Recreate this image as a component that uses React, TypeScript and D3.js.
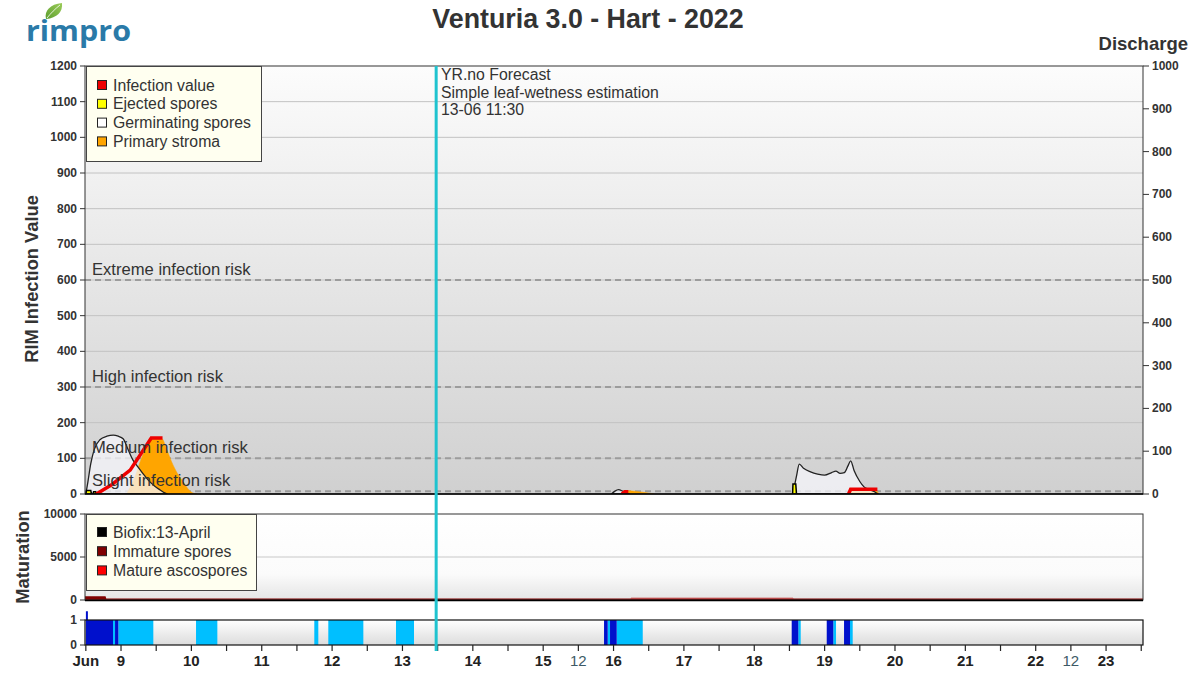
import React from 'react';
import * as d3 from 'd3';

const W = 1198;
const H = 677;
const FONT = '"Liberation Sans", Arial, Helvetica, sans-serif';

type Pt = { t: number; v: number };
const P = (t: number, v: number): Pt => ({ t, v });

// ---- Data (time in June days, e.g. 9.5 = 9 June 12:00) ----
const germinatingSpores: Pt[][] = [
  [P(8.50, 0), P(8.53, 35), P(8.57, 85), P(8.62, 125), P(8.70, 152), P(8.80, 162), P(8.89, 165), P(8.96, 162), P(9.03, 155), P(9.10, 125), P(9.17, 95), P(9.24, 76), P(9.32, 55), P(9.40, 36), P(9.48, 22), P(9.55, 12), P(9.62, 3), P(9.66, 0)],
  [P(15.97, 0), P(16.02, 8), P(16.07, 12), P(16.13, 8), P(16.19, 2), P(16.23, 0)],
  [P(18.55, 0), P(18.60, 50), P(18.64, 84), P(18.70, 72), P(18.80, 62), P(18.90, 56), P(19.00, 53), P(19.10, 60), P(19.16, 64), P(19.22, 58), P(19.28, 60), P(19.33, 78), P(19.37, 93), P(19.42, 65), P(19.50, 35), P(19.56, 20), P(19.64, 12), P(19.72, 5), P(19.76, 0)],
];

const primaryStroma: Pt[][] = [
  [P(9.08, 0), P(9.20, 50), P(9.30, 105), P(9.40, 148), P(9.44, 155), P(9.58, 155), P(9.65, 125), P(9.72, 90), P(9.80, 58), P(9.88, 35), P(9.95, 15), P(10.02, 3), P(10.08, 0)],
  [P(16.14, 0), P(16.18, 9), P(16.30, 8), P(16.45, 4), P(16.58, 0)],
  [P(19.33, 0), P(19.36, 8), P(19.74, 8), P(19.77, 0)],
];

const infectionValue: Pt[][] = [
  [P(8.65, 0), P(8.86, 25), P(9.13, 67), P(9.43, 157), P(9.59, 157)],
  [P(16.12, 0), P(16.16, 6), P(16.21, 6)],
  [P(19.34, 0), P(19.37, 13), P(19.75, 13)],
];

const ejectedSpores: Pt[][] = [
  [P(8.50, 0), P(8.51, 10), P(8.57, 10), P(8.58, 0)],
  [P(8.60, 0), P(8.61, 6), P(8.64, 6), P(8.65, 0)],
  [P(18.545, 0), P(18.55, 28), P(18.59, 28), P(18.60, 0)],
];

const immatureSpores: Pt[] = [P(8.488, 450), P(8.78, 450), P(8.79, 160), P(23.525, 160)];
const matureAscospores: Pt[] = [P(16.24, 0), P(16.25, 110), P(18.55, 110), P(18.56, 0)];

const wetDark: [number, number][] = [
  [8.503, 8.886], [8.915, 8.962], [15.865, 15.917], [15.950, 16.045],
  [18.532, 18.626], [19.030, 19.123], [19.276, 19.361],
];
const wetLight: [number, number][] = [
  [8.886, 8.915], [8.962, 9.459], [10.066, 10.369], [11.747, 11.804], [11.946, 12.444],
  [12.908, 13.164], [15.917, 15.950], [16.045, 16.415], [18.626, 18.660],
  [19.123, 19.162], [19.361, 19.399],
];
const rainBars: Pt[] = [P(8.515, 1.35)];

const riskLevels = [
  { label: 'Extreme infection risk', v: 600 },
  { label: 'High infection risk', v: 300 },
  { label: 'Medium infection risk', v: 100 },
  { label: 'Slight infection risk', v: 8 },
];

const leftTicks = d3.range(0, 1201, 100);
const rightTicks = d3.range(0, 1001, 100);
const maturationTicks = [0, 5000, 10000];
const wetTicks = [0, 1];
const dayLabels = d3.range(9, 24);
const extraLabels = [{ t: 15.5, label: '12' }, { t: 22.5, label: '12' }];
const halfDayTicks = d3.range(8.5, 23.51, 0.5);
const forecastTime = 13.479;
const forecastText = ['YR.no Forecast', 'Simple leaf-wetness estimation', '13-06 11:30'];

const infectionLegend = [
  { label: 'Infection value', color: '#ee0000' },
  { label: 'Ejected spores', color: '#ffff00' },
  { label: 'Germinating spores', color: '#ffffff' },
  { label: 'Primary stroma', color: '#ffa500' },
];
const maturationLegend = [
  { label: 'Biofix:13-April', color: '#000000' },
  { label: 'Immature spores', color: '#800000' },
  { label: 'Mature ascospores', color: '#ff0000' },
];

export default function App() {
  const L = 85, R = 1143;
  const x = d3.scaleLinear().domain([8.488, 23.525]).range([L, R]);
  const yL = d3.scaleLinear().domain([0, 1200]).range([494, 66]);
  const yR = d3.scaleLinear().domain([0, 1000]).range([494, 66]);
  const yM = d3.scaleLinear().domain([0, 10000]).range([600, 514]);
  const yW = d3.scaleLinear().domain([0, 1]).range([645, 620]);

  const areaL = d3.area<Pt>().x(d => x(d.t)).y0(yL(0)).y1(d => yL(d.v)).curve(d3.curveMonotoneX);
  const areaLin = d3.area<Pt>().x(d => x(d.t)).y0(yL(0)).y1(d => yL(d.v));
  const lineL = d3.line<Pt>().x(d => x(d.t)).y(d => yL(d.v));
  const immArea = d3.area<Pt>().x(d => x(d.t)).y0(yM(0)).y1(d => yM(d.v));
  const matArea = d3.area<Pt>().x(d => x(d.t)).y0(yM(160)).y1(d => yM(160 + d.v));

  const xf = x(forecastTime);
  const fs = 15.8;

  return (
    <svg width={W} height={H} style={{ position: 'absolute', left: 0, top: 0, background: '#fff' }} fontFamily={FONT}>
      <defs>
        <linearGradient id="gMain" x1="0" y1="0" x2="0" y2="1">
          <stop offset="0" stopColor="#fcfcfc" />
          <stop offset="1" stopColor="#d0d0d0" />
        </linearGradient>
        <linearGradient id="gMat" x1="0" y1="0" x2="0" y2="1">
          <stop offset="0" stopColor="#ffffff" />
          <stop offset="0.7" stopColor="#fbfbfb" />
          <stop offset="1" stopColor="#e4e4e4" />
        </linearGradient>
        <linearGradient id="gWet" x1="0" y1="0" x2="0" y2="1">
          <stop offset="0" stopColor="#ffffff" />
          <stop offset="1" stopColor="#dcdcdc" />
        </linearGradient>
        <linearGradient id="gLeaf" x1="0" y1="1" x2="1" y2="0">
          <stop offset="0" stopColor="#5c9e2e" />
          <stop offset="1" stopColor="#9ccc5a" />
        </linearGradient>
        <clipPath id="cMain"><rect x={L} y={66} width={R - L} height={428} /></clipPath>
        <clipPath id="cMat"><rect x={L} y={514} width={R - L} height={86} /></clipPath>
      </defs>

      {/* Logo */}
      <path d="M46,19 C44,11 50,4 62,3 C63,12 57,18 46,19 Z" fill="url(#gLeaf)" />
      <path d="M47,18 C51,13 55,9 60,5" stroke="#ffffff" strokeWidth={1} fill="none" opacity={0.8} />
      <text x={26} y={41} fontFamily='"Open Sans", Arial, sans-serif' fontWeight="bold" fontSize={29} fill="#2a7aa8" textLength={105} lengthAdjust="spacingAndGlyphs">rimpro</text>

      {/* Title */}
      <text x={588} y={28} textAnchor="middle" fontWeight="bold" fontSize={26.8} fill="#333">Venturia 3.0 - Hart - 2022</text>
      <text x={1188} y={50} textAnchor="end" fontWeight="bold" fontSize={18.5} fill="#333">Discharge</text>

      {/* Axis titles */}
      <text transform={`translate(38,279) rotate(-90)`} textAnchor="middle" fontWeight="bold" fontSize={18.3} fill="#333">RIM Infection Value</text>
      <text transform={`translate(29,557) rotate(-90)`} textAnchor="middle" fontWeight="bold" fontSize={18.3} fill="#333">Maturation</text>

      {/* ---------- Main panel ---------- */}
      <rect x={L} y={66} width={R - L} height={428} fill="url(#gMain)" />
      {leftTicks.filter(t => t > 0 && t < 1200).map(t => (
        <line key={'g' + t} x1={L} x2={R} y1={yL(t)} y2={yL(t)} stroke="#c2c2c2" strokeWidth={1} />
      ))}
      {riskLevels.map(r => (
        <g key={r.label}>
          <line x1={L} x2={R} y1={yL(r.v)} y2={yL(r.v)} stroke="#9c9c9c" strokeWidth={2} strokeDasharray="6,4" />
        </g>
      ))}

      <g clipPath="url(#cMain)">
        {primaryStroma.map((s, i) => (
          <path key={'ps' + i} d={areaL(s) || ''} fill="#ffa500" stroke="#ffa500" strokeWidth={0.5} />
        ))}
        {germinatingSpores.map((s, i) => (
          <path key={'gs' + i} d={areaL(s) || ''} fill="#f6f6fb" fillOpacity={0.75} stroke="#222" strokeWidth={1.3} />
        ))}
        {ejectedSpores.map((s, i) => (
          <path key={'es' + i} d={areaLin(s) || ''} fill="#ffff00" stroke="#000" strokeWidth={1.5} />
        ))}
        {infectionValue.map((s, i) => (
          <path key={'iv' + i} d={lineL(s) || ''} fill="none" stroke="#ee0000" strokeWidth={3.5} />
        ))}
      </g>

      {riskLevels.map(r => (
        <text key={'rt' + r.label} x={92} y={yL(r.v) - 5} fontSize={16.6} fill="#333">{r.label}</text>
      ))}

      {/* frame */}
      <rect x={L} y={66} width={R - L} height={428} fill="none" stroke="#333" strokeWidth={1} />
      <line x1={L} x2={R} y1={494} y2={494} stroke="#000" strokeWidth={1.5} />

      {/* left axis */}
      {leftTicks.map(t => (
        <g key={'lt' + t}>
          <line x1={L - 5} x2={L} y1={yL(t)} y2={yL(t)} stroke="#333" />
          <text x={77} y={yL(t) + 4} textAnchor="end" fontSize={12} fontWeight="bold" fill="#333">{t}</text>
        </g>
      ))}
      {/* right axis */}
      {rightTicks.map(t => (
        <g key={'rt' + t}>
          <line x1={R} x2={R + 6} y1={yR(t)} y2={yR(t)} stroke="#333" />
          <text x={1152} y={yR(t) + 4} textAnchor="start" fontSize={12} fontWeight="bold" fill="#333">{t}</text>
        </g>
      ))}

      {/* legend main */}
      <rect x={86.5} y={66.5} width={175} height={95} fill="#fffff0" stroke="#444" strokeWidth={1} />
      {infectionLegend.map((it, i) => (
        <g key={it.label}>
          <rect x={97.5} y={80.5 + i * 18.8} width={9} height={9} fill={it.color} stroke="#222" strokeWidth={1} />
          <text x={113} y={90.5 + i * 18.8} fontSize={fs} fill="#333">{it.label}</text>
        </g>
      ))}

      {/* ---------- Maturation panel ---------- */}
      <rect x={L} y={514} width={R - L} height={86} fill="url(#gMat)" />
      <line x1={L} x2={R} y1={yM(5000)} y2={yM(5000)} stroke="#c8c8c8" />
      <g clipPath="url(#cMat)">
        <path d={immArea(immatureSpores) || ''} fill="#800000" />
        <path d={matArea(matureAscospores) || ''} fill="#c02020" />
      </g>
      <rect x={L} y={514} width={R - L} height={86} fill="none" stroke="#333" strokeWidth={1} />
      <line x1={L} x2={R} y1={600.5} y2={600.5} stroke="#000" strokeWidth={1.5} />
      {maturationTicks.map(t => (
        <g key={'mt' + t}>
          <line x1={L - 5} x2={L} y1={yM(t)} y2={yM(t)} stroke="#333" />
          <text x={77} y={yM(t) + 4} textAnchor="end" fontSize={12} fontWeight="bold" fill="#333">{t}</text>
        </g>
      ))}
      <rect x={86.5} y={514.5} width={170} height={76} fill="#fffff0" stroke="#444" strokeWidth={1} />
      {maturationLegend.map((it, i) => (
        <g key={it.label}>
          <rect x={97.5} y={527.5 + i * 19.2} width={9} height={9} fill={it.color} stroke="#222" strokeWidth={1} />
          <text x={113} y={537.5 + i * 19.2} fontSize={fs} fill="#333">{it.label}</text>
        </g>
      ))}

      {/* ---------- Wetness panel ---------- */}
      <rect x={L} y={620} width={R - L} height={25} fill="url(#gWet)" />
      {wetLight.map(([a, b], i) => (
        <rect key={'wl' + i} x={x(a)} y={yW(1)} width={x(b) - x(a)} height={yW(0) - yW(1)} fill="#00bfff" />
      ))}
      {wetDark.map(([a, b], i) => (
        <rect key={'wd' + i} x={x(a)} y={yW(1)} width={x(b) - x(a)} height={yW(0) - yW(1)} fill="#0010cc" />
      ))}
      {rainBars.map((r, i) => (
        <rect key={'rb' + i} x={x(r.t) - 1} y={yW(r.v)} width={2} height={yW(0) - yW(r.v)} fill="#0010cc" />
      ))}
      <rect x={L} y={620} width={R - L} height={25} fill="none" stroke="#111" strokeWidth={1.2} />
      {wetTicks.map(t => (
        <g key={'wt' + t}>
          <line x1={L - 5} x2={L} y1={yW(t)} y2={yW(t)} stroke="#333" />
          <text x={77} y={yW(t) + 4} textAnchor="end" fontSize={12} fontWeight="bold" fill="#333">{t}</text>
        </g>
      ))}

      {/* bottom axis */}
      {halfDayTicks.map(t => (
        <line key={'ht' + t} x1={x(t)} x2={x(t)} y1={645} y2={651} stroke="#222" strokeWidth={1.2} />
      ))}
      <text x={x(8.5)} y={666} textAnchor="middle" fontSize={15} fontWeight="bold" fill="#222">Jun</text>
      {dayLabels.map(d => (
        <text key={'dl' + d} x={x(d)} y={666} textAnchor="middle" fontSize={15} fontWeight="bold" fill="#222">{d}</text>
      ))}
      {extraLabels.map((e, i) => (
        <text key={'el' + i} x={x(e.t)} y={666} textAnchor="middle" fontSize={15} fill="#3d5a66">{e.label}</text>
      ))}

      {/* forecast marker */}
      <line x1={xf} x2={xf} y1={66} y2={651} stroke="#1fc3cf" strokeWidth={3} />
      {forecastText.map((s, i) => (
        <text key={'ft' + i} x={441} y={80 + i * 17.6} fontSize={fs} fill="#333">{s}</text>
      ))}
    </svg>
  );
}
